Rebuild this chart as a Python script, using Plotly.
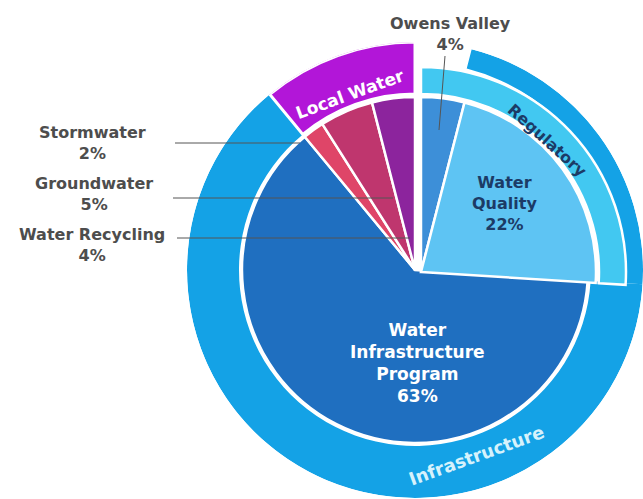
import plotly.graph_objects as go

# ---- data: budget shares (percent), listed clockwise from 12 o'clock ----
programs = ["Owens Valley", "Water Quality", "Water Infrastructure Program",
            "Stormwater", "Groundwater", "Water Recycling"]
shares = [4, 22, 63, 2, 5, 4]
program_colors = ["#3d8fd8", "#5ec4f3", "#1f6fc0", "#df4568", "#bf366e", "#8c249d"]

# outer categories and the programs each one covers
groups = ["Regulatory", "Infrastructure", "Local Water"]
group_members = {
    "Regulatory": ["Owens Valley", "Water Quality"],
    "Infrastructure": ["Water Quality", "Water Infrastructure Program"],
    "Local Water": ["Stormwater", "Groundwater", "Water Recycling"],
}
group_colors = {"Regulatory": "#42c8f1", "Infrastructure": "#14a2e6", "Local Water": "#b216d8"}

# programs pulled out of the pie together with the Regulatory band
exploded = ["Owens Valley", "Water Quality"]

# ---- angular geometry derived from the shares ----
DEG = 360 / sum(shares)
start = {}
acc = 0
for p, s in zip(programs, shares):
    start[p] = acc * DEG
    acc += s
span = {p: s * DEG for p, s in zip(programs, shares)}


def arc(members):
    a0 = min(start[m] for m in members)
    a1 = max(start[m] + span[m] for m in members)
    return (a0 + a1) / 2, a1 - a0


W, H = 643, 499
WHITE = "#ffffff"

fig = go.Figure()

# main pie (slices that stay in place)
main = [p for p in programs if p not in exploded]
fig.add_trace(go.Barpolar(
    subplot="polar",
    theta=[start[p] + span[p] / 2 for p in main],
    width=[span[p] for p in main],
    r=[173] * len(main), base=[0] * len(main),
    marker=dict(color=[program_colors[programs.index(p)] for p in main],
                line=dict(color=WHITE, width=2.5)),
    name="programs", showlegend=False, hoverinfo="skip",
))

# Infrastructure ring: full thickness beside the main program, outer lane beside Water Quality
inf_theta, inf_width, inf_base, inf_r = [], [], [], []
for m in group_members["Infrastructure"]:
    inf_theta.append(start[m] + span[m] / 2)
    inf_width.append(span[m])
    if m in exploded:
        inf_base.append(208); inf_r.append(20)
    else:
        inf_base.append(176); inf_r.append(52)
fig.add_trace(go.Barpolar(
    subplot="polar", theta=inf_theta, width=inf_width, r=inf_r, base=inf_base,
    marker=dict(color=group_colors["Infrastructure"], line=dict(width=0)),
    name="Infrastructure", showlegend=False, hoverinfo="skip",
))

# Local Water ring
t, w = arc(group_members["Local Water"])
fig.add_trace(go.Barpolar(
    subplot="polar", theta=[t], width=[w], r=[52], base=[176],
    marker=dict(color=group_colors["Local Water"], line=dict(color=WHITE, width=3)),
    name="Local Water", showlegend=False, hoverinfo="skip",
))

# exploded Regulatory wedge on its own, slightly offset polar subplot
fig.add_trace(go.Barpolar(
    subplot="polar2",
    theta=[start[p] + span[p] / 2 for p in exploded],
    width=[span[p] for p in exploded],
    r=[175] * len(exploded), base=[0] * len(exploded),
    marker=dict(color=[program_colors[programs.index(p)] for p in exploded],
                line=dict(color=WHITE, width=2.5)),
    name="regulatory programs", showlegend=False, hoverinfo="skip",
))
t, w = arc(group_members["Regulatory"])
fig.add_trace(go.Barpolar(
    subplot="polar2", theta=[t], width=[w], r=[27], base=[178],
    marker=dict(color=group_colors["Regulatory"], line=dict(color=WHITE, width=2.5)),
    name="Regulatory", showlegend=False, hoverinfo="skip",
))

hidden_radial = dict(visible=False)
hidden_angular = dict(visible=False, rotation=90, direction="clockwise")

fig.update_layout(
    width=W, height=H, autosize=False,
    margin=dict(l=0, r=0, t=0, b=0, pad=0),
    paper_bgcolor=WHITE, plot_bgcolor=WHITE,
    polar=dict(domain=dict(x=[187 / W, 1.0], y=[1 / H, 457 / H]),
               bgcolor="rgba(0,0,0,0)",
               radialaxis=dict(range=[0, 228], **hidden_radial),
               angularaxis=hidden_angular),
    polar2=dict(domain=dict(x=[199 / W, 1.0], y=[5 / H, 449 / H]),
                bgcolor="rgba(0,0,0,0)",
                radialaxis=dict(range=[0, 222], **hidden_radial),
                angularaxis=hidden_angular),
)


def px(x):
    return x / W


def py(y):
    return 1 - y / H


FONT = "DejaVu Sans"
GREY = "#4d4d4d"
NAVY = "#1c3b66"

pct = dict(zip(programs, shares))


def label(text, x, y, color, size=16, angle=0, bold=True):
    fig.add_annotation(
        x=px(x), y=py(y), xref="paper", yref="paper", text=text,
        showarrow=False, xanchor="center", yanchor="middle", align="center",
        textangle=angle,
        font=dict(family=FONT, size=size, color=color, weight="bold" if bold else "normal"),
    )


# callouts outside the pie
label(f"Owens Valley<br>{pct['Owens Valley']}%", 450, 34, GREY)
label(f"Stormwater<br>{pct['Stormwater']}%", 92, 143, GREY)
label(f"Groundwater<br>{pct['Groundwater']}%", 94, 194, GREY)
label(f"Water Recycling<br>{pct['Water Recycling']}%", 92, 245, GREY)

# in-slice labels
label(f"Water<br>Quality<br>{pct['Water Quality']}%", 504, 203, NAVY, size=16)
label(f"Water<br>Infrastructure<br>Program<br>{pct['Water Infrastructure Program']}%",
      417, 363, WHITE, size=17)

# ring labels
label("Local Water", 350, 94, WHITE, size=17, angle=-20)
label("Regulatory", 547, 141, NAVY, size=16, angle=42)
label("Infrastructure", 476, 455, "#d6f2fc", size=18, angle=-20)

# leader lines from the callouts into their slices
LEADERS = [((175, 143), (300, 143)), ((173, 198), (393, 198)),
           ((177, 238), (410, 238)), ((445, 56), (439, 130))]
for (x0, y0), (x1, y1) in LEADERS:
    fig.add_shape(type="line", xref="paper", yref="paper",
                  x0=px(x0), y0=py(y0), x1=px(x1), y1=py(y1),
                  line=dict(color="#555555", width=1), layer="above")

fig.write_html("out.html")
